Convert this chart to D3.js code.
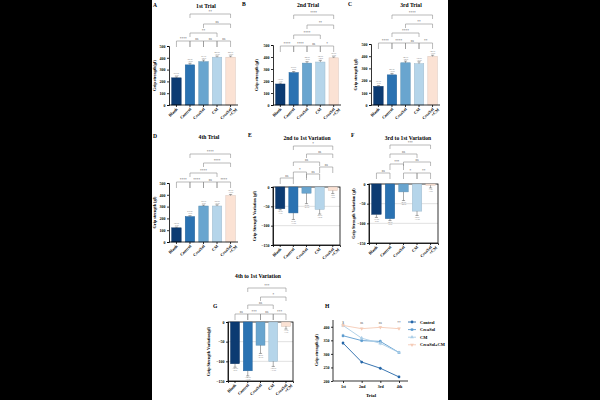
<!DOCTYPE html>
<html>
<head>
<meta charset="utf-8">
<script src="https://cdn.jsdelivr.net/npm/d3@7"></script>
<style>
  body { margin: 0; background: #000; }
  svg { display: block; }
  text { font-family: "Liberation Serif", "DejaVu Serif", serif; }
</style>
</head>
<body>
<div id="fig"></div>
<script>
// group names and bar values
const groups = ["Blank", "Control", "CreaSol", "CM", "CreaSol+CM"];
const xLabels = [["Blank"], ["Control"], ["CreaSol"], ["CM"], ["CreaSol", "+CM"]];

const trial1 = [230, 340, 367, 405, 405];
const trial1Sd = [8, 14, 14, 10, 10];
const trial2 = [175, 270, 349, 358, 393];
const trial2Sd = [7, 9, 12, 14, 8];
const trial3 = [153, 247, 346, 339, 398];
const trial3Sd = [6, 12, 14, 15, 10];
const trial4 = [120, 215, 305, 305, 393];
const trial4Sd = [6, 8, 8, 10, 10];

const var21 = [-56, -67, -16, -58, -9];
const var21Sd = [3, 17, 27, 12, 8];
const var31 = [-77, -88, -20, -69, -3];
const var31Sd = [8, 5, 22, 11, 7];
const var41 = [-106, -124, -59, -100, -11];
const var41Sd = [9, 13, 21, 13, 7];

// significance pairs [i, j, label]
const sigA = [[0,1,"****"],[1,2,"ns"],[2,3,"ns"],[3,4,"ns"],[1,3,"**"],[2,4,"ns"],[1,4,"**"]];
const sigB = [[0,1,"****"],[1,2,"****"],[2,3,"ns"],[3,4,"*"],[1,3,"****"],[2,4,"**"],[1,4,"****"]];
const sigC = [[0,1,"****"],[1,2,"****"],[2,3,"ns"],[3,4,"**"],[1,3,"****"],[2,4,"**"],[1,4,"****"]];
const sigD = [[0,1,"****"],[1,2,"****"],[2,3,"ns"],[3,4,"****"],[1,3,"****"],[2,4,"****"],[1,4,"****"]];
const sigE = [[0,1,"ns"],[1,2,"*"],[2,3,"ns"],[3,4,"ns"],[1,3,"ns"],[2,4,"ns"],[1,4,"*"]];
const sigF = [[0,1,"ns"],[1,2,"***"],[2,3,"*"],[3,4,"**"],[1,3,"ns"],[2,4,"ns"],[1,4,"***"]];
const sigG = [[0,1,"ns"],[1,2,"***"],[2,3,"ns"],[3,4,"***"],[1,3,"ns"],[2,4,"*"],[1,4,"***"]];

const trialTicks = [0, 100, 200, 300, 400, 500];
const varTicks = [0, -50, -100, -150];
const lineTicks = [200, 250, 300, 350, 400];
const trials = ["1st", "2nd", "3rd", "4th"];
const lineSeries = ["Control", "CreaSol", "CM", "CreaSol+CM"];
const trialAnno = ["$", "ns", "ns", "**"];

const barColors = ["#0c3b72", "#2a72b2", "#69a5cf", "#b5d5ea", "#fbe2d4"];
const lineColors = ["#2466a8", "#5b9bcf", "#a9cde7", "#f5cbb6"];
const lineShapes = [d3.symbolCircle, d3.symbolSquare, d3.symbolTriangle, d3.symbolTriangle];

const width = 600, height = 400;
const svg = d3.select("#fig").append("svg").attr("width", width).attr("height", height);
svg.append("rect").attr("width", width).attr("height", height).attr("fill", "#000");
svg.append("rect").attr("x", 152).attr("y", 0).attr("width", 296).attr("height", height).attr("fill", "#fff");

function styleAxis(g) {
    g.selectAll("path, line").attr("stroke", "#000").attr("stroke-width", 0.8);
    g.selectAll("text").attr("font-size", 4).attr("font-weight", "bold")
        .attr("font-family", "Liberation Serif, serif").attr("fill", "#000");
}

function label(txt, x, y, size, opts) {
    const t = svg.append("text").attr("x", x).attr("y", y).attr("font-size", size)
        .attr("font-weight", "bold").attr("fill", "#000").text(txt);
    if (opts && opts.anchor) t.attr("text-anchor", opts.anchor);
    if (opts && opts.rotate) t.attr("transform", `rotate(-90, ${x}, ${y})`);
    return t;
}

function barPanel(p) {
    const g = svg.append("g");
    const x = d3.scaleBand().domain(groups).range([p.x0, p.x1]).paddingInner(0.3).paddingOuter(0.2);
    const y = d3.scaleLinear().domain(p.domain).range(p.range);
    const bw = x.bandwidth();
    const neg = p.domain[0] < 0;
    const baseY = neg ? y(p.domain[0]) : y(0);

    if (neg) {
        // light reference lines and frame
        g.selectAll("line.grid").data(p.ticks.filter(t => t !== 0 && t !== p.domain[0])).join("line")
            .attr("x1", p.x0).attr("x2", p.x1).attr("y1", d => y(d)).attr("y2", d => y(d))
            .attr("stroke", "#d9d9d9").attr("stroke-width", 0.8);
        g.append("rect").attr("x", p.x0).attr("y", y(0)).attr("width", p.x1 - p.x0)
            .attr("height", y(p.domain[0]) - y(0)).attr("fill", "none")
            .attr("stroke", "#000").attr("stroke-width", 0.8);
    }

    g.selectAll("rect.bar").data(p.values).join("rect")
        .attr("x", (d, i) => x(groups[i]))
        .attr("y", d => Math.min(y(0), y(d)))
        .attr("width", bw)
        .attr("height", d => Math.abs(y(d) - y(0)))
        .attr("fill", (d, i) => barColors[i])
        .attr("stroke", (d, i) => d3.color(barColors[i]).darker(0.4))
        .attr("stroke-width", 0.5);

    // error bars
    p.values.forEach((v, i) => {
        const cx = x(groups[i]) + bw / 2;
        const dir = v < 0 ? -1 : 1;
        const end = v + dir * p.sd[i];
        g.append("line").attr("x1", cx).attr("x2", cx).attr("y1", y(v)).attr("y2", y(end))
            .attr("stroke", "#555").attr("stroke-width", 0.5);
        g.append("line").attr("x1", cx - 1.6).attr("x2", cx + 1.6).attr("y1", y(end)).attr("y2", y(end))
            .attr("stroke", "#555").attr("stroke-width", 0.5);
        const ty = dir > 0 ? y(end) - 3.2 : y(end) + 2.2;
        const t = g.append("text").attr("x", cx).attr("y", ty).attr("text-anchor", "middle")
            .attr("font-size", 1.9).attr("fill", "#666");
        t.append("tspan").attr("x", cx).text(v.toFixed(2));
        t.append("tspan").attr("x", cx).attr("dy", 1.9).text("±" + p.sd[i].toFixed(2));
    });

    // axes
    const ya = g.append("g").attr("transform", `translate(${p.x0},0)`)
        .call(d3.axisLeft(y).tickValues(p.ticks).tickSize(2).tickPadding(1.5));
    styleAxis(ya);
    const xa = g.append("g").attr("transform", `translate(0,${baseY})`)
        .call(d3.axisBottom(x).tickSize(2).tickFormat(""));
    styleAxis(xa);
    if (!neg) xa.select(".domain").attr("d", `M${p.x0},0H${p.x1}`);

    xLabels.forEach((lines, i) => {
        const cx = x(groups[i]) + bw / 2 + 1.5;
        const t = g.append("text").attr("transform", `translate(${cx},${baseY + 4.5}) rotate(-45)`)
            .attr("text-anchor", "end").attr("font-size", 4.2).attr("font-weight", "bold");
        lines.forEach((s, k) => t.append("tspan").attr("x", k ? 3.5 : 0).attr("dy", k ? 4.2 : 0).text(s));
    });

    // significance brackets
    p.sig.forEach((s, k) => {
        const by = p.brackets[k];
        const xi = x(groups[s[0]]) + bw / 2, xj = x(groups[s[1]]) + bw / 2;
        const leg = k < 4 ? 6 : 4;
        g.append("path").attr("d", `M${xi},${by + leg}V${by}H${xj}V${by + leg}`)
            .attr("fill", "none").attr("stroke", "#8c8c8c").attr("stroke-width", 0.6);
        g.append("text").attr("x", (xi + xj) / 2).attr("y", by - 0.8).attr("text-anchor", "middle")
            .attr("font-size", 3.4).attr("fill", "#555").text(s[2]);
    });

    label(p.title, p.titleX, p.titleY, 5.6, { anchor: "middle" });
    label(p.letter, p.letterX, p.letterY, 5.6);
    label(p.ylab, p.ylabX, (y.range()[0] + y.range()[1]) / 2, 4.2, { anchor: "middle", rotate: true });
}

const posPanels = [
    { values: trial1, sd: trial1Sd, sig: sigA, x0: 169, x1: 238, range: [105, 46],
      brackets: [41, 41, 41, 41, 33, 24, 14], title: "1st Trial", titleX: 206, titleY: 8,
      letter: "A", letterX: 153, letterY: 7, ylab: "Grip strength(gf)", ylabX: 156 },
    { values: trial2, sd: trial2Sd, sig: sigB, x0: 273, x1: 341, range: [105, 45],
      brackets: [46, 46, 46, 46, 35, 25, 15], title: "2nd Trial", titleX: 308, titleY: 7,
      letter: "B", letterX: 242, letterY: 6, ylab: "Grip strength (gf)", ylabX: 258 },
    { values: trial3, sd: trial3Sd, sig: sigC, x0: 371, x1: 440, range: [105, 44],
      brackets: [43, 43, 43, 43, 33, 24, 15], title: "3rd Trial", titleX: 411, titleY: 7,
      letter: "C", letterX: 348, letterY: 6, ylab: "Grip strength (gf)", ylabX: 357 },
    { values: trial4, sd: trial4Sd, sig: sigD, x0: 169, x1: 238, range: [242, 183],
      brackets: [182, 182, 182, 182, 173, 163, 154], title: "4th Trial", titleX: 209, titleY: 139,
      letter: "D", letterX: 153, letterY: 138, ylab: "Grip strength (gf)", ylabX: 156 }
];
posPanels.forEach(p => barPanel(Object.assign({ domain: [0, 500], ticks: trialTicks }, p)));

const negPanels = [
    { values: var21, sd: var21Sd, sig: sigE, x0: 273, x1: 340, range: [245, 187],
      brackets: [178, 172, 174, 167, 162, 154, 146], title: "2nd to 1st Variation", titleX: 307, titleY: 140,
      letter: "E", letterX: 248, letterY: 137, ylab: "Grip Strength Variation (gf)", ylabX: 256 },
    { values: var31, sd: var31Sd, sig: sigF, x0: 369, x1: 438, range: [243, 184],
      brackets: [173, 164, 173, 173, 154, 162, 145], title: "3rd to 1st Variation", titleX: 408, titleY: 140,
      letter: "F", letterX: 351, letterY: 137, ylab: "Grip Strength Variation (gf)", ylabX: 355 },
    { values: var41, sd: var41Sd, sig: sigG, x0: 228, x1: 293, range: [381, 322],
      brackets: [314, 314, 314, 314, 305, 297, 288], title: "4th to 1st Variation", titleX: 258, titleY: 278,
      letter: "G", letterX: 213, letterY: 308, ylab: "Grip Strength Variation(gf)", ylabX: 210 }
];
negPanels.forEach(p => barPanel(Object.assign({ domain: [-150, 0], ticks: varTicks }, p)));

// panel H: mean per trial for each treated group
const lineData = lineSeries.map(name => {
    const gi = groups.indexOf(name);
    return [trial1, trial2, trial3, trial4].map(t => t[gi]);
});
const lineSd = lineSeries.map(name => {
    const gi = groups.indexOf(name);
    return [trial1Sd, trial2Sd, trial3Sd, trial4Sd].map(t => t[gi]);
});

(function linePanel() {
    const g = svg.append("g");
    const x = d3.scalePoint().domain(trials).range([343, 399]);
    const y = d3.scaleLinear().domain([200, 425]).range([381, 320]);

    lineData.forEach((vals, s) => {
        g.append("path").datum(vals)
            .attr("d", d3.line().x((d, i) => x(trials[i])).y(d => y(d)))
            .attr("fill", "none").attr("stroke", lineColors[s]).attr("stroke-width", 0.9);
        vals.forEach((v, i) => {
            const cx = x(trials[i]);
            g.append("line").attr("x1", cx).attr("x2", cx)
                .attr("y1", y(v - lineSd[s][i] / 2)).attr("y2", y(v + lineSd[s][i] / 2))
                .attr("stroke", lineColors[s]).attr("stroke-width", 0.5);
        });
        g.selectAll(null).data(vals).join("path")
            .attr("transform", (d, i) => `translate(${x(trials[i])},${y(d)})` + (s === 3 ? " rotate(180)" : ""))
            .attr("d", d3.symbol(lineShapes[s], 6))
            .attr("fill", lineColors[s]);
    });

    const ya = g.append("g").attr("transform", "translate(333,0)")
        .call(d3.axisLeft(y).tickValues(lineTicks).tickSize(2).tickPadding(1.5));
    styleAxis(ya);
    const xa = g.append("g").attr("transform", `translate(0,${y(200)})`)
        .call(d3.axisBottom(x).tickSize(2).tickPadding(2));
    styleAxis(xa);
    xa.select(".domain").attr("d", "M333,0H408");
    ya.select(".domain").attr("d", `M0,${y(200)}V${y(425)}`);

    trialAnno.forEach((a, i) => {
        g.append("text").attr("x", x(trials[i])).attr("y", 324).attr("text-anchor", "middle")
            .attr("font-size", 3.4).attr("fill", "#555").text(a);
    });

    // legend
    lineSeries.forEach((name, s) => {
        const ly = 322 + s * 7.6;
        g.append("line").attr("x1", 408).attr("x2", 416).attr("y1", ly).attr("y2", ly)
            .attr("stroke", lineColors[s]).attr("stroke-width", 0.9);
        g.append("path").attr("transform", `translate(412,${ly})` + (s === 3 ? " rotate(180)" : ""))
            .attr("d", d3.symbol(lineShapes[s], 6)).attr("fill", lineColors[s]);
        g.append("text").attr("x", 420).attr("y", ly + 1.5).attr("font-size", 4.4)
            .attr("font-weight", "bold").text(name);
    });

    label("H", 325, 308, 5.6);
    label("Trial", 371, 397, 4.8, { anchor: "middle" });
    label("Grip strength (gf)", 318, 350, 4.2, { anchor: "middle", rotate: true });
})();

// black margins of the figure page
svg.append("rect").attr("x", 0).attr("y", 0).attr("width", 152).attr("height", height).attr("fill", "#000");
svg.append("rect").attr("x", 448).attr("y", 0).attr("width", 152).attr("height", height).attr("fill", "#000");
</script>
</body>
</html>
